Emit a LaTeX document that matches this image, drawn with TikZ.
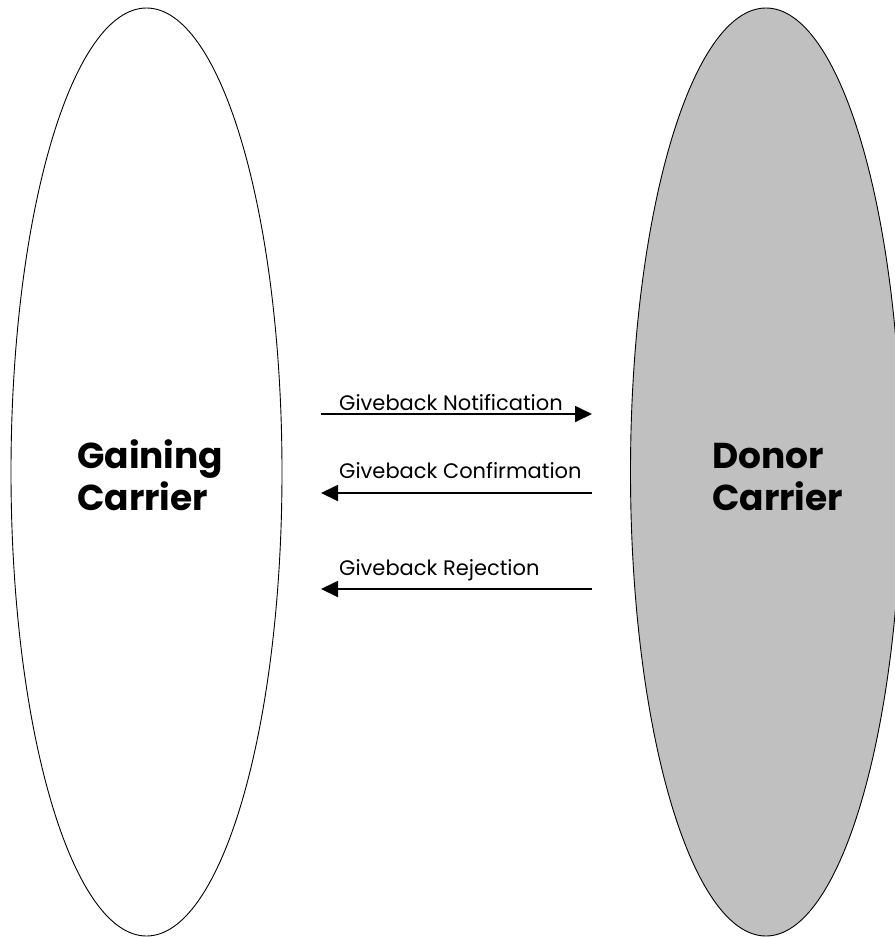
\documentclass[tikz,border=0pt]{standalone}
\usepackage{fontspec}
\setmainfont{Poppins}
\usetikzlibrary{shapes.geometric,arrows.meta}
\definecolor{donorgray}{HTML}{C0C0C0}
\begin{document}
\begin{tikzpicture}[x=1pt,y=-1pt,
  party/.style={draw=black,line width=0.9pt,ellipse,minimum width=271pt,minimum height=928pt,inner sep=0pt},
  partylabel/.style={font=\fontsize{36}{42}\selectfont\bfseries,align=left,anchor=base west,inner sep=0pt},
  msg/.style={line width=1.8pt,-{Triangle[length=17pt,width=16pt]}},
  msglabel/.style={font=\fontsize{21}{24}\selectfont,anchor=base west,inner sep=0pt}]
\useasboundingbox (0,0) rectangle (895,938);
\clip (0,0) rectangle (895,938);
\node[party,fill=white] (gain) at (146.5,472) {};
\node[party,fill=donorgray] (donor) at (766,472) {};
\node[partylabel] (gaintext) at (77,510) {Gaining\\Carrier};
\node[partylabel] (donortext) at (712,510) {Donor\\Carrier};
\coordinate (n1) at (321,414); \coordinate (n2) at (592,414);
\coordinate (c1) at (592,493); \coordinate (c2) at (321,493);
\coordinate (r1) at (592,589); \coordinate (r2) at (321,589);
\draw[msg] (n1) -- (n2);
\draw[msg] (c1) -- (c2);
\draw[msg] (r1) -- (r2);
\node[msglabel] (nl) at (339,410) {Giveback Notification};
\node[msglabel] (cl) at (339,478) {Giveback Confirmation};
\node[msglabel] (rl) at (339,575) {Giveback Rejection};
\end{tikzpicture}
\end{document}
